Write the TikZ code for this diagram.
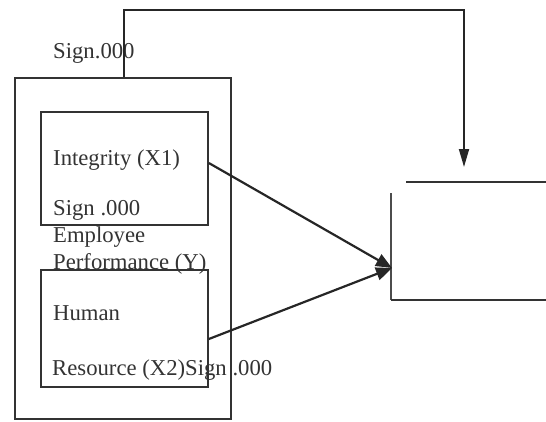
\documentclass[tikz,border=0pt]{standalone}
\usepackage{fontspec}
\setmainfont{Liberation Serif}
\usetikzlibrary{arrows.meta}
\begin{document}
\begin{tikzpicture}[x=1pt,y=-1pt,
  boxline/.style={draw=black!80,line width=1.7pt,inner sep=0pt},
  lbl/.style={anchor=base west,inner sep=0pt,text=black!80,font=\fontsize{22.7}{27}\selectfont},
  conn/.style={draw=black!85,line width=2.2pt,-{Triangle[length=16pt,width=13pt]}},
  fb/.style={draw=black!85,line width=1.8pt,-{Triangle[length=18pt,width=10pt]}}]
\useasboundingbox (0,0) rectangle (546,421);
% boxes
\node[boxline,minimum width=216pt,minimum height=341pt] (outer) at (123,248.5) {};
\node[boxline,minimum width=167pt,minimum height=113pt] (box1) at (124.5,168.5) {};
\node[boxline,minimum width=167pt,minimum height=117pt] (box2) at (124.5,328.5) {};
% right (partial) box
\coordinate (rtl) at (406,182);
\coordinate (rtr) at (546,182);
\coordinate (rlt) at (391,193);
\coordinate (rbl) at (391,300);
\coordinate (rbr) at (546,300);
\draw[draw=black!80,line width=1.7pt] (rtl) -- (rtr);
\draw[draw=black!70,line width=1.5pt] (rlt) -- (rbl);
\draw[draw=black!80,line width=1.7pt] (rbl) -- (rbr);
\coordinate (tip) at (392,268);
\coordinate (ftip) at (464,167);
\coordinate (fa) at (124,10);
\coordinate (fb) at (464,10);
% labels
\node[lbl] (s0) at (53,58) {Sign.000};
\node[lbl] (x1) at (53,165) {Integrity (X1)};
\node[lbl] (s1) at (53,215) {Sign .000};
\node[lbl] (emp) at (53,242) {Employee};
\node[lbl] (perf) at (53,269) {Performance (Y)};
\node[lbl] (hum) at (53,320) {Human};
\node[lbl] (res) at (52,375) {Resource (X2)Sign .000};
% connectors
\draw[conn] ([yshift=5.5pt]box1.east) -- (tip);
\draw[conn] ([yshift=-10.5pt]box2.east) -- (tip);
\draw[fb] ([xshift=1pt]outer.north) -- (fa) -- (fb) -- (ftip);
\end{tikzpicture}
\end{document}
